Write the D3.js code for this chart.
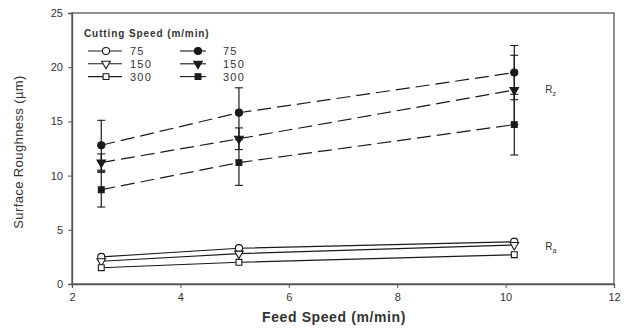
<!DOCTYPE html>
<html>
<head>
<meta charset="utf-8">
<script src="https://cdn.jsdelivr.net/npm/d3@7"></script>
<style>
  body { margin: 0; background: #fff; }
  text { font-family: Arial, "Liberation Sans", sans-serif; }
</style>
</head>
<body>
<div id="chart"></div>
<script>
// feed speed values (m/min)
var feed = [2.54, 5.08, 10.16];
var speeds = ["75", "150", "300"];

// Rz (filled markers, dashed lines)
var rz75 = [12.8, 15.8, 19.5], rz75err = [2.3, 2.3, 2.5];
var rz150 = [11.2, 13.4, 17.9], rz150err = [0.8, 1.0, 3.2];
var rz300 = [8.7, 11.2, 14.7], rz300err = [1.6, 2.1, 2.8];

// Ra (open markers, solid lines)
var ra75 = [2.5, 3.3, 3.9];
var ra150 = [2.1, 2.8, 3.6];
var ra300 = [1.5, 2.0, 2.7];

var xTicks = [2, 4, 6, 8, 10, 12];
var yTicks = [0, 5, 10, 15, 20, 25];

var W = 624, H = 331;
var margin = {top: 13, right: 10, bottom: 47, left: 72};
var width = W - margin.left - margin.right,
    height = H - margin.top - margin.bottom;

var svg = d3.select("#chart")
  .append("svg")
    .attr("width", W)
    .attr("height", H);
var g = svg.append("g")
    .attr("transform", "translate(" + margin.left + "," + margin.top + ")");

var x = d3.scaleLinear().domain([2, 12]).range([0, width]);
var y = d3.scaleLinear().domain([0, 25]).range([height, 0]);

var ink = "#1a1a1a";

// frame
g.append("rect")
  .attr("width", width).attr("height", height)
  .attr("fill", "none").attr("stroke", "#555").attr("stroke-width", 1.3);

// axes
var xAxis = g.append("g")
  .attr("transform", "translate(0," + height + ")")
  .call(d3.axisBottom(x).tickValues(xTicks).tickSize(4).tickPadding(5));
var yAxis = g.append("g")
  .call(d3.axisLeft(y).tickValues(yTicks).tickSize(4).tickPadding(5));
[xAxis, yAxis].forEach(function(a) {
  a.select(".domain").attr("stroke", "#555").attr("stroke-width", 1.3);
  a.selectAll(".tick line").attr("stroke", "#555");
  a.selectAll(".tick text").attr("font-size", 11).attr("fill", "#333")
    .style("font-family", "Arial, 'Liberation Sans', sans-serif");
});

// axis titles
svg.append("text")
  .attr("x", 334).attr("y", 322)
  .attr("text-anchor", "middle").attr("font-size", 14).attr("font-weight", "bold")
  .attr("letter-spacing", 0.6)
  .attr("fill", "#333").text("Feed Speed (m/min)");
svg.append("text")
  .attr("transform", "translate(23,152) rotate(-90)")
  .attr("text-anchor", "middle").attr("font-size", 13).attr("fill", "#333")
  .attr("letter-spacing", 0.4)
  .text("Surface Roughness (\u00b5m)");

var line = d3.line()
  .x(function(d) { return x(d[0]); })
  .y(function(d) { return y(d[1]); });

function marker(sel, shape, filled) {
  var fill = filled ? ink : "#fff";
  sel.each(function() {
    var m = d3.select(this);
    var sym = shape === "circle" ? d3.symbolCircle
            : shape === "square" ? d3.symbolSquare
            : d3.symbolTriangle;
    var size = shape === "square" ? 34 : shape === "circle" ? 40 : 32;
    var p = m.append("path")
      .attr("d", d3.symbol().type(sym).size(size)())
      .attr("fill", fill).attr("stroke", ink).attr("stroke-width", 1.1);
    if (shape === "triangle") p.attr("transform", "rotate(180)");
  });
}

var shapes = ["circle", "triangle", "square"];
var rzSeries = [[rz75, rz75err], [rz150, rz150err], [rz300, rz300err]];
var raSeries = [ra75, ra150, ra300];

// error bars for Rz
rzSeries.forEach(function(s) {
  var pts = feed.map(function(f, i) { return {x: f, v: s[0][i], e: s[1][i]}; });
  var eb = g.append("g").selectAll("g").data(pts).enter().append("g");
  eb.append("line")
    .attr("x1", function(d) { return x(d.x); }).attr("x2", function(d) { return x(d.x); })
    .attr("y1", function(d) { return y(d.v - d.e); }).attr("y2", function(d) { return y(d.v + d.e); })
    .attr("stroke", ink).attr("stroke-width", 1.2);
  [-1, 1].forEach(function(sg) {
    eb.append("line")
      .attr("x1", function(d) { return x(d.x) - 4; }).attr("x2", function(d) { return x(d.x) + 4; })
      .attr("y1", function(d) { return y(d.v + sg * d.e); }).attr("y2", function(d) { return y(d.v + sg * d.e); })
      .attr("stroke", ink).attr("stroke-width", 1.1);
  });
});

// Rz lines and markers
rzSeries.forEach(function(s, k) {
  var pts = feed.map(function(f, i) { return [f, s[0][i]]; });
  g.append("path").datum(pts).attr("d", line)
    .attr("fill", "none").attr("stroke", ink).attr("stroke-width", 1.2)
    .attr("stroke-dasharray", "14,6");
  g.append("g").selectAll("g").data(pts).enter().append("g")
    .attr("transform", function(d) { return "translate(" + x(d[0]) + "," + y(d[1]) + ")"; })
    .call(marker, shapes[k], true);
});

// Ra lines and markers
raSeries.forEach(function(s, k) {
  var pts = feed.map(function(f, i) { return [f, s[i]]; });
  g.append("path").datum(pts).attr("d", line)
    .attr("fill", "none").attr("stroke", ink).attr("stroke-width", 1.1);
  g.append("g").selectAll("g").data(pts).enter().append("g")
    .attr("transform", function(d) { return "translate(" + x(d[0]) + "," + y(d[1]) + ")"; })
    .call(marker, shapes[k], false);
});

// Rz / Ra labels
function subLabel(xp, yp, sub) {
  var t = g.append("text").attr("x", xp).attr("y", yp)
    .attr("font-size", 10).attr("fill", "#333");
  t.append("tspan").text("R");
  t.append("tspan").attr("font-size", 7).attr("dy", 3).text(sub);
}
subLabel(x(10.16) + 31, y(17.6), "z");
subLabel(x(10.16) + 31, y(3.1), "a");

// legend
var leg = g.append("g").attr("transform", "translate(12,0)");
leg.append("text").attr("x", 0).attr("y", 24)
  .attr("font-size", 10).attr("font-weight", "bold").attr("fill", "#333")
  .attr("letter-spacing", 0.9)
  .text("Cutting Speed (m/min)");
speeds.forEach(function(sp, k) {
  var yy = 38 + k * 12.8;
  [false, true].forEach(function(filled, c) {
    var x0 = c === 0 ? 4 : 96, lw = c === 0 ? 34 : 26;
    leg.append("line").attr("x1", x0).attr("x2", x0 + lw)
      .attr("y1", yy).attr("y2", yy).attr("stroke", ink).attr("stroke-width", 1.1);
    leg.append("g").attr("transform", "translate(" + (x0 + (c === 0 ? 18 : 18)) + "," + yy + ")")
      .call(marker, shapes[k], filled);
    leg.append("text").attr("x", x0 + (c === 0 ? 42 : 43)).attr("y", yy + 4)
      .attr("font-size", 11).attr("fill", "#333").attr("letter-spacing", 1.2).text(sp);
  });
});
</script>
</body>
</html>
